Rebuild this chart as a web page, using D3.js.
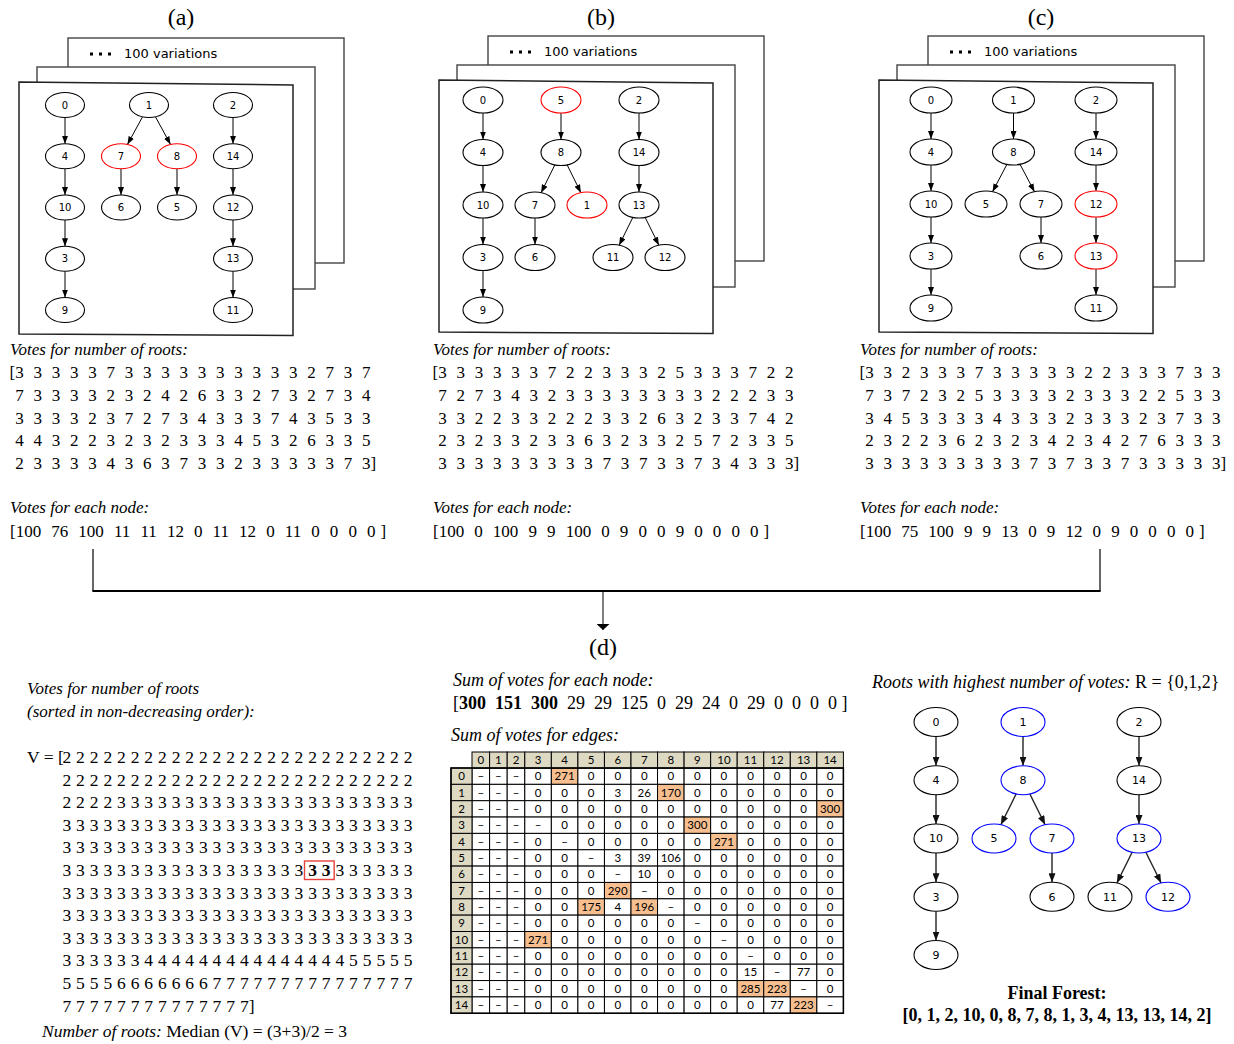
<!DOCTYPE html>
<html>
<head>
<meta charset="utf-8">
<script src="https://cdn.jsdelivr.net/npm/d3@7"></script>
<style>
  html, body { margin: 0; padding: 0; background: #fff; }
  svg { display: block; }
  text { white-space: pre; }
</style>
</head>
<body>
<svg id="fig" width="1234" height="1044"></svg>
<script>
// ---------------------------------------------------------------------------
// Data
// ---------------------------------------------------------------------------
const panelLabels = ["(a)", "(b)", "(c)"];
const variationsLabel = "100 variations";

// Sample forests: roots (left to right) and parent -> child edges
const rootsA = [0, 1, 2];
const edgesA = [[0,4],[4,10],[10,3],[3,9],[1,7],[1,8],[7,6],[8,5],[2,14],[14,12],[12,13],[13,11]];
const alteredA = [7, 8];

const rootsB = [0, 5, 2];
const edgesB = [[0,4],[4,10],[10,3],[3,9],[5,8],[8,7],[8,1],[7,6],[2,14],[14,13],[13,11],[13,12]];
const alteredB = [5, 1];

const rootsC = [0, 1, 2];
const edgesC = [[0,4],[4,10],[10,3],[3,9],[1,8],[8,5],[8,7],[7,6],[2,14],[14,12],[12,13],[13,11]];
const alteredC = [12, 13];

// Votes for number of roots (100 variations each)
const rootVotesA = [
  3,3,3,3,3,7,3,3,3,3,3,3,3,3,3,3,2,7,3,7,
  7,3,3,3,3,2,3,2,4,2,6,3,3,2,7,3,2,7,3,4,
  3,3,3,3,2,3,7,2,7,3,4,3,3,3,7,4,3,5,3,3,
  4,4,3,2,2,3,2,3,2,3,3,3,4,5,3,2,6,3,3,5,
  2,3,3,3,3,4,3,6,3,7,3,3,2,3,3,3,3,3,7,3];
const rootVotesB = [
  3,3,3,3,3,3,7,2,2,3,3,3,2,5,3,3,3,7,2,2,
  7,2,7,3,4,3,2,3,3,3,3,3,3,3,3,2,2,2,3,3,
  3,3,2,2,3,3,2,2,2,3,3,2,6,3,2,3,3,7,4,2,
  2,3,2,3,3,2,3,3,6,3,2,3,3,2,5,7,2,3,3,5,
  3,3,3,3,3,3,3,3,3,7,3,7,3,3,7,3,4,3,3,3];
const rootVotesC = [
  3,3,2,3,3,3,7,3,3,3,3,3,2,2,3,3,3,7,3,3,
  7,3,7,2,3,2,5,3,3,3,3,2,3,3,3,2,2,5,3,3,
  3,4,5,3,3,3,3,4,3,3,3,2,3,3,3,2,3,7,3,3,
  2,3,2,2,3,6,2,3,2,3,4,2,3,4,2,7,6,3,3,3,
  3,3,3,3,3,3,3,3,3,7,3,7,3,3,7,3,3,3,3,3];

// Votes for each node being a root
const nodeVotesA = [100, 76, 100, 11, 11, 12, 0, 11, 12, 0, 11, 0, 0, 0, 0];
const nodeVotesB = [100, 0, 100, 9, 9, 100, 0, 9, 0, 0, 9, 0, 0, 0, 0];
const nodeVotesC = [100, 75, 100, 9, 9, 13, 0, 9, 12, 0, 9, 0, 0, 0, 0];

// All 300 root-count votes in non-decreasing order
const sortedRootVotes = [
  2,2,2,2,2,2,2,2,2,2,2,2,2,2,2,2,2,2,2,2,2,2,2,2,2,2,
  2,2,2,2,2,2,2,2,2,2,2,2,2,2,2,2,2,2,2,2,2,2,2,2,2,2,
  2,2,2,2,3,3,3,3,3,3,3,3,3,3,3,3,3,3,3,3,3,3,3,3,3,3,
  3,3,3,3,3,3,3,3,3,3,3,3,3,3,3,3,3,3,3,3,3,3,3,3,3,3,
  3,3,3,3,3,3,3,3,3,3,3,3,3,3,3,3,3,3,3,3,3,3,3,3,3,3,
  3,3,3,3,3,3,3,3,3,3,3,3,3,3,3,3,3,3,3,3,3,3,3,3,3,3,
  3,3,3,3,3,3,3,3,3,3,3,3,3,3,3,3,3,3,3,3,3,3,3,3,3,3,
  3,3,3,3,3,3,3,3,3,3,3,3,3,3,3,3,3,3,3,3,3,3,3,3,3,3,
  3,3,3,3,3,3,3,3,3,3,3,3,3,3,3,3,3,3,3,3,3,3,3,3,3,3,
  3,3,3,3,3,3,4,4,4,4,4,4,4,4,4,4,4,4,4,4,4,5,5,5,5,5,
  5,5,5,5,6,6,6,6,6,6,6,7,7,7,7,7,7,7,7,7,7,7,7,7,7,7,
  7,7,7,7,7,7,7,7,7,7,7,7,7,7];
const medianPicks = [148, 149];
const medianText = "Median (V) = (3+3)/2 = 3";

// Summed votes per node, and the chosen roots
const nodeVoteSums = [300, 151, 300, 29, 29, 125, 0, 29, 24, 0, 29, 0, 0, 0, 0];
const chosenRoots = [0, 1, 2];

// Summed votes for edges: row = parent, column = child (null = not allowed)
const _ = null;
const edgeVoteSums = [
  [_,_,_,  0,271,  0,  0,  0,  0,  0,  0,  0,  0,  0,  0],
  [_,_,_,  0,  0,  0,  3, 26,170,  0,  0,  0,  0,  0,  0],
  [_,_,_,  0,  0,  0,  0,  0,  0,  0,  0,  0,  0,  0,300],
  [_,_,_,  _,  0,  0,  0,  0,  0,300,  0,  0,  0,  0,  0],
  [_,_,_,  0,  _,  0,  0,  0,  0,  0,271,  0,  0,  0,  0],
  [_,_,_,  0,  0,  _,  3, 39,106,  0,  0,  0,  0,  0,  0],
  [_,_,_,  0,  0,  0,  _, 10,  0,  0,  0,  0,  0,  0,  0],
  [_,_,_,  0,  0,  0,290,  _,  0,  0,  0,  0,  0,  0,  0],
  [_,_,_,  0,  0,175,  4,196,  _,  0,  0,  0,  0,  0,  0],
  [_,_,_,  0,  0,  0,  0,  0,  0,  _,  0,  0,  0,  0,  0],
  [_,_,_,271,  0,  0,  0,  0,  0,  0,  _,  0,  0,  0,  0],
  [_,_,_,  0,  0,  0,  0,  0,  0,  0,  0,  _,  0,  0,  0],
  [_,_,_,  0,  0,  0,  0,  0,  0,  0,  0, 15,  _, 77,  0],
  [_,_,_,  0,  0,  0,  0,  0,  0,  0,  0,285,223,  _,  0],
  [_,_,_,  0,  0,  0,  0,  0,  0,  0,  0,  0, 77,223,  _]];

// Final forest as a parent array (roots point to themselves)
const finalForest = [0, 1, 2, 10, 0, 8, 7, 8, 1, 3, 4, 13, 13, 14, 2];
const changedInForest = [1, 8, 5, 7, 13, 12];

// ---------------------------------------------------------------------------
// Drawing
// ---------------------------------------------------------------------------
const svg = d3.select("#fig");
const serif = "'Liberation Serif', 'Times New Roman', serif";
const sans = "'DejaVu Sans', 'Liberation Sans', sans-serif";
const cellFont = "Lato, 'Open Sans', sans-serif";

const defs = svg.append("defs");
function marker(id, len, wid, color) {
  defs.append("marker")
    .attr("id", id)
    .attr("viewBox", `0 0 ${len} ${wid}`)
    .attr("refX", len).attr("refY", wid / 2)
    .attr("markerWidth", len).attr("markerHeight", wid)
    .attr("markerUnits", "userSpaceOnUse")
    .attr("orient", "auto")
    .append("path")
    .attr("d", `M0,0L${len},${wid / 2}L0,${wid}Z`)
    .attr("fill", color);
}
marker("head", 8, 6, "#000");
marker("headF", 9, 7, "#111");
marker("headLong", 6, 13, "#000");

// Layered tree layout (Reingold-Tilford via d3.tree) for a forest
function layoutForest(roots, edges) {
  const rows = [{ id: "top" }]
    .concat(roots.map(r => ({ id: String(r), parent: "top" })))
    .concat(edges.map(([p, c]) => ({ id: String(c), parent: String(p) })));
  const h = d3.stratify().id(d => d.id).parentId(d => d.parent)(rows);
  d3.tree().nodeSize([1, 1]).separation(() => 1)(h);
  const nodes = h.descendants().filter(d => d.depth > 0);
  const minX = d3.min(nodes, d => d.x);
  nodes.forEach(d => { d.col = d.x - minX; d.rank = d.depth - 1; d.key = +d.id; });
  return nodes;
}

function forestEdges(parents) {
  const roots = [], edges = [];
  parents.forEach((p, i) => { if (p === i) roots.push(i); });
  parents.forEach((p, i) => { if (p !== i) edges.push([p, i]); });
  // parents must come before their children; siblings keep index order
  const depth = i => (parents[i] === i ? 0 : 1 + depth(parents[i]));
  edges.sort((a, b) => depth(a[1]) - depth(b[1]) || a[1] - b[1]);
  return { roots, edges };
}

function drawGraph(g, nodes, o) {
  const x = d3.scaleLinear().domain([0, 1]).range([o.x0, o.x0 + o.step]);
  const y = d3.scaleLinear().domain([0, 1]).range([o.y0, o.y0 + o.dy]);
  nodes.forEach(n => { n.px = x(n.col); n.py = y(n.rank); });
  const links = nodes.filter(n => n.depth > 1).map(n => [n.parent, n]);
  const clip = (ux, uy) => 1 / Math.sqrt((ux / o.rx) ** 2 + (uy / o.ry) ** 2);
  g.selectAll("line.edge").data(links).join("line")
    .attr("class", "edge")
    .each(function ([p, c]) {
      const dx = c.px - p.px, dy = c.py - p.py, L = Math.hypot(dx, dy);
      const ux = dx / L, uy = dy / L, t = clip(ux, uy);
      d3.select(this)
        .attr("x1", p.px + ux * t).attr("y1", p.py + uy * t)
        .attr("x2", c.px - ux * t).attr("y2", c.py - uy * t);
    })
    .attr("stroke", o.edgeColor).attr("stroke-width", o.edgeWidth)
    .attr("marker-end", `url(#${o.head})`);
  const ng = g.selectAll("g.node").data(nodes).join("g")
    .attr("class", "node")
    .attr("transform", d => `translate(${d.px},${d.py})`);
  ng.append("ellipse")
    .attr("rx", o.rx).attr("ry", o.ry)
    .attr("fill", "#fff")
    .attr("stroke", d => o.marked.includes(d.key) ? o.markColor : "#000")
    .attr("stroke-width", 1.1);
  ng.append("text")
    .attr("text-anchor", "middle").attr("dy", "0.36em")
    .attr("font-family", sans).attr("font-size", o.font)
    .attr("fill", "#000")
    .text(d => d.key);
}

// ---- panels (a), (b), (c) ----
const panels = [
  { label: panelLabels[0], roots: rootsA, edges: edgesA, marked: alteredA,
    votes: rootVotesA, nodeVotes: nodeVotesA,
    frame: { l: 19, t: 82, r: 293, b: 334 },
    graph: { x0: 65, step: 56, y0: 105, dy: 51.25, rx: 19.5, ry: 12.5 },
    textLeft: 10 },
  { label: panelLabels[1], roots: rootsB, edges: edgesB, marked: alteredB,
    votes: rootVotesB, nodeVotes: nodeVotesB,
    frame: { l: 439, t: 80, r: 713, b: 332 },
    graph: { x0: 483, step: 52, y0: 100, dy: 52.5, rx: 20, ry: 13 },
    textLeft: 433 },
  { label: panelLabels[2], roots: rootsC, edges: edgesC, marked: alteredC,
    votes: rootVotesC, nodeVotes: nodeVotesC,
    frame: { l: 879, t: 80, r: 1153, b: 332 },
    graph: { x0: 931, step: 55, y0: 100, dy: 52, rx: 21, ry: 13 },
    textLeft: 860 }
];

panels.forEach(p => {
  const g = svg.append("g");
  const f = p.frame;
  g.append("text")
    .attr("x", f.l + 162).attr("y", 25)
    .attr("text-anchor", "middle")
    .attr("font-family", serif).attr("font-size", 24)
    .text(p.label);

  // stacked sheets behind the shown variation
  const back = { l: f.l + 49, t: f.t - 44, r: f.r + 51, b: f.b - 71 };
  const mid = { l: f.l + 18, t: f.t - 15, r: f.r + 22, b: f.b - 45 };
  [back, mid].forEach(s => {
    g.append("rect")
      .attr("x", s.l).attr("y", s.t)
      .attr("width", s.r - s.l).attr("height", s.b - s.t)
      .attr("fill", "#fff").attr("stroke", "#444").attr("stroke-width", 1.4);
  });
  [0, 1, 2].forEach(i => {
    g.append("rect")
      .attr("x", back.l + 22 + i * 9).attr("y", back.t + 14.5)
      .attr("width", 3).attr("height", 3).attr("fill", "#000");
  });
  g.append("text")
    .attr("x", back.l + 56).attr("y", back.t + 20)
    .attr("font-family", sans).attr("font-size", 13)
    .text(variationsLabel);
  g.append("polygon")
    .attr("points", [[f.l, f.t], [f.r, f.t + 3], [f.r, f.b + 1.5], [f.l, f.b]].map(q => q.join(",")).join(" "))
    .attr("fill", "#fff").attr("stroke", "#222").attr("stroke-width", 1.5);

  drawGraph(g.append("g"), layoutForest(p.roots, p.edges), Object.assign({}, p.graph, {
    marked: p.marked, markColor: "#ff0000", font: 10,
    edgeColor: "#000", edgeWidth: 1, head: "head" }));

  // vote listings
  const tx = p.textLeft;
  g.append("text")
    .attr("x", tx).attr("y", 355)
    .attr("font-family", serif).attr("font-size", 17).attr("font-style", "italic")
    .text("Votes for number of roots:");
  const perRow = 20;
  const vx = d3.scaleLinear().domain([0, perRow - 1]).range([tx + 9.5, tx + 9.5 + (perRow - 1) * 18.25]);
  const vy = d3.scaleLinear().domain([0, 1]).range([378, 400.75]);
  g.selectAll("text.vote").data(p.votes).join("text")
    .attr("class", "vote")
    .attr("x", (d, i) => vx(i % perRow)).attr("y", (d, i) => vy(Math.floor(i / perRow)))
    .attr("text-anchor", "middle")
    .attr("font-family", serif).attr("font-size", 17)
    .text(d => d);
  g.append("text")
    .attr("x", vx(0) - 4.3).attr("y", vy(0)).attr("text-anchor", "end")
    .attr("font-family", serif).attr("font-size", 17).text("[");
  g.append("text")
    .attr("x", vx(perRow - 1) + 4.3).attr("y", vy(Math.floor((p.votes.length - 1) / perRow)))
    .attr("font-family", serif).attr("font-size", 17).text("]");

  g.append("text")
    .attr("x", tx).attr("y", 513)
    .attr("font-family", serif).attr("font-size", 17).attr("font-style", "italic")
    .text("Votes for each node:");
  g.append("text")
    .attr("x", tx).attr("y", 537)
    .attr("font-family", serif).attr("font-size", 17)
    .attr("word-spacing", 0.8)
    .text("[" + p.nodeVotes.join("  ") + " ]");
});

// ---- merging connector ----
const conn = svg.append("g").attr("stroke", "#000");
conn.append("line").attr("x1", 93).attr("y1", 549).attr("x2", 93).attr("y2", 591).attr("stroke-width", 1.2);
conn.append("line").attr("x1", 1100).attr("y1", 549).attr("x2", 1100).attr("y2", 591).attr("stroke-width", 1.2);
conn.append("line").attr("x1", 92.4).attr("y1", 591).attr("x2", 1100.6).attr("y2", 591).attr("stroke-width", 2);
conn.append("line").attr("x1", 603).attr("y1", 591).attr("x2", 603).attr("y2", 630)
  .attr("stroke-width", 1).attr("marker-end", "url(#headLong)");
svg.append("text")
  .attr("x", 603).attr("y", 655).attr("text-anchor", "middle")
  .attr("font-family", serif).attr("font-size", 24)
  .text("(d)");

// ---- sorted root-count votes and the median ----
const left = svg.append("g");
left.append("text").attr("x", 27).attr("y", 694)
  .attr("font-family", serif).attr("font-size", 17).attr("font-style", "italic")
  .text("Votes for number of roots");
left.append("text").attr("x", 27).attr("y", 717)
  .attr("font-family", serif).attr("font-size", 17).attr("font-style", "italic")
  .text("(sorted in non-decreasing order):");
const perLine = 26;
const sx = d3.scaleLinear().domain([0, perLine - 1]).range([66.8, 66.8 + (perLine - 1) * 13.65]);
const sy = d3.scaleLinear().domain([0, 1]).range([763, 785.6]);
left.append("text").attr("x", 27).attr("y", sy(0))
  .attr("font-family", serif).attr("font-size", 17.5)
  .text("V = [");
left.selectAll("text.sv").data(sortedRootVotes).join("text")
  .attr("class", "sv")
  .attr("x", (d, i) => sx(i % perLine)).attr("y", (d, i) => sy(Math.floor(i / perLine)))
  .attr("text-anchor", "middle")
  .attr("font-family", serif).attr("font-size", 17.5)
  .attr("font-weight", (d, i) => medianPicks.includes(i) ? "bold" : "normal")
  .text(d => d);
const lastIdx = sortedRootVotes.length - 1;
left.append("text")
  .attr("x", sx(lastIdx % perLine) + 4.4).attr("y", sy(Math.floor(lastIdx / perLine)))
  .attr("font-family", serif).attr("font-size", 17.5).text("]");
const m0 = medianPicks[0], m1 = medianPicks[medianPicks.length - 1];
left.append("rect")
  .attr("x", sx(m0 % perLine) - 8).attr("y", sy(Math.floor(m0 / perLine)) - 15)
  .attr("width", sx(m1 % perLine) - sx(m0 % perLine) + 16).attr("height", 18.5)
  .attr("fill", "none").attr("stroke", "#e8403a").attr("stroke-width", 1.4);
const med = left.append("text").attr("x", 42).attr("y", 1037)
  .attr("font-family", serif).attr("font-size", 17.5);
med.append("tspan").attr("font-style", "italic").text("Number of roots:");
med.append("tspan").text(" " + medianText);

// ---- summed votes ----
const mid = svg.append("g");
mid.append("text").attr("x", 453).attr("y", 686)
  .attr("font-family", serif).attr("font-size", 18).attr("font-style", "italic")
  .text("Sum of votes for each node:");
const sums = mid.append("text").attr("x", 453).attr("y", 709)
  .attr("font-family", serif).attr("font-size", 18);
sums.append("tspan").text("[");
nodeVoteSums.forEach((v, i) => {
  sums.append("tspan")
    .attr("font-weight", chosenRoots.includes(i) ? "bold" : "normal")
    .text(String(v));
  sums.append("tspan").text(i < nodeVoteSums.length - 1 ? "  " : " ]");
});
mid.append("text").attr("x", 451).attr("y", 741)
  .attr("font-family", serif).attr("font-size", 18).attr("font-style", "italic")
  .text("Sum of votes for edges:");

// edge vote table
const tableLeft = 451, headTop = 752, labelW = 21, headH = 16, rowH = 16.35;
const colW = c => (c < 3 ? 17.6 : 26.55);
const colX = [];
edgeVoteSums[0].reduce((acc, _, c) => { colX.push(acc); return acc + colW(c); }, tableLeft + labelW);
const rowY = r => headTop + headH + r * rowH;
const tan = "#ddd9c3", picked = "#f7bf8f";
const table = mid.append("g").attr("font-family", cellFont).attr("font-size", 11.5);

const chosenCell = (r, c) => finalForest[c] !== c && finalForest[c] === r;

edgeVoteSums.forEach((row, r) => {
  row.forEach((v, c) => {
    table.append("rect")
      .attr("x", colX[c]).attr("y", rowY(r)).attr("width", colW(c)).attr("height", rowH)
      .attr("fill", chosenCell(r, c) ? picked : "#fff")
      .attr("stroke", "#000").attr("stroke-width", 1);
    table.append("text")
      .attr("x", colX[c] + colW(c) / 2).attr("y", rowY(r) + rowH / 2 + 4)
      .attr("text-anchor", "middle")
      .text(v === null ? "–" : v);
  });
  table.append("rect")
    .attr("x", tableLeft).attr("y", rowY(r)).attr("width", labelW).attr("height", rowH)
    .attr("fill", tan).attr("stroke", "#000").attr("stroke-width", 1);
  table.append("text")
    .attr("x", tableLeft + labelW / 2).attr("y", rowY(r) + rowH / 2 + 4)
    .attr("text-anchor", "middle").text(r);
});
edgeVoteSums[0].forEach((_, c) => {
  table.append("rect")
    .attr("x", colX[c]).attr("y", headTop).attr("width", colW(c)).attr("height", headH)
    .attr("fill", tan).attr("stroke", "#000").attr("stroke-width", 1);
  table.append("text")
    .attr("x", colX[c] + colW(c) / 2).attr("y", headTop + headH / 2 + 4)
    .attr("text-anchor", "middle").text(c);
});
const tableRight = colX[colX.length - 1] + colW(colX.length - 1);
table.append("rect")
  .attr("x", tableLeft).attr("y", headTop + headH)
  .attr("width", tableRight - tableLeft).attr("height", rowY(edgeVoteSums.length) - headTop - headH)
  .attr("fill", "none").attr("stroke", "#000").attr("stroke-width", 1.5);

// ---- resulting forest ----
const right = svg.append("g");
const rh = right.append("text").attr("x", 872).attr("y", 688)
  .attr("font-family", serif).attr("font-size", 18);
rh.append("tspan").attr("font-style", "italic").text("Roots with highest number of votes:");
rh.append("tspan").text(" R = {" + chosenRoots.join(",") + "}");

const ff = forestEdges(finalForest);
drawGraph(right.append("g"), layoutForest(ff.roots, ff.edges), {
  x0: 936, step: 58, y0: 722, dy: 58.25, rx: 22, ry: 14.5,
  marked: changedInForest, markColor: "#0000ff", font: 11,
  edgeColor: "#222", edgeWidth: 1.4, head: "headF" });

right.append("text").attr("x", 1057).attr("y", 999).attr("text-anchor", "middle")
  .attr("font-family", serif).attr("font-size", 18).attr("font-weight", "bold")
  .text("Final Forest:");
right.append("text").attr("x", 1057).attr("y", 1021).attr("text-anchor", "middle")
  .attr("font-family", serif).attr("font-size", 18).attr("font-weight", "bold")
  .text("[" + finalForest.join(", ") + "]");
</script>
</body>
</html>
